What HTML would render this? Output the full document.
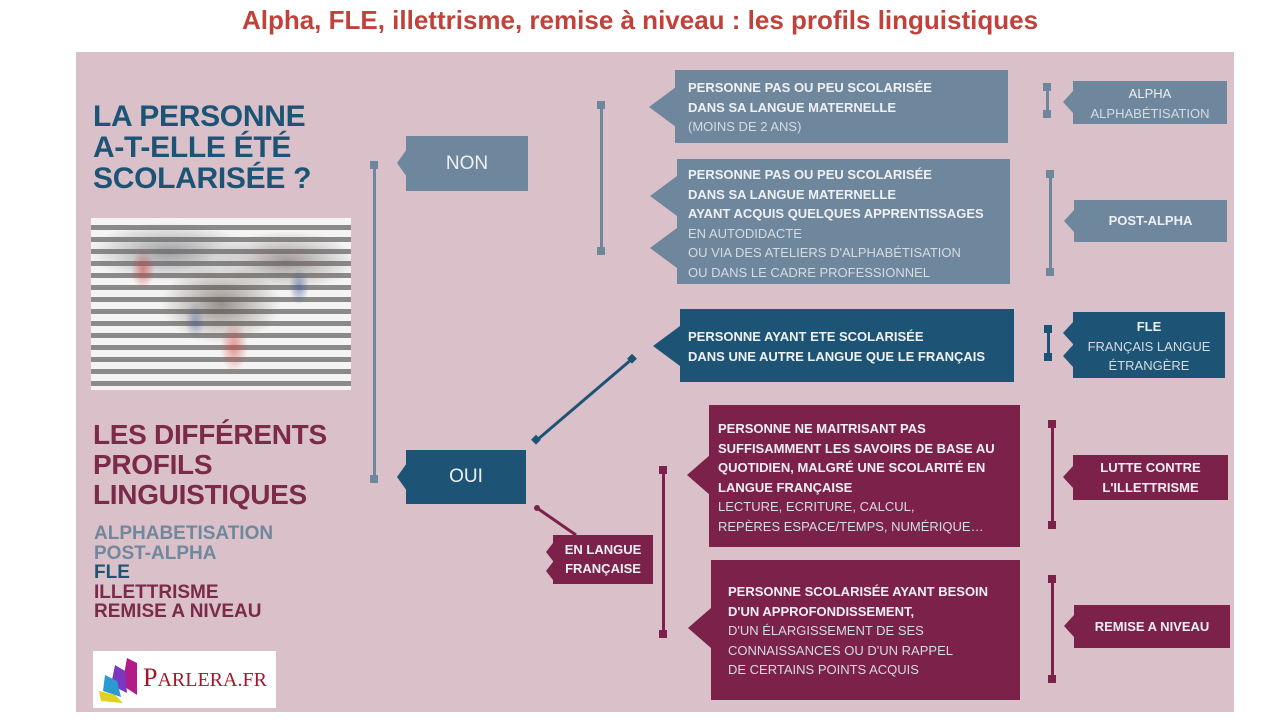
<!DOCTYPE html>
<html><head><meta charset="utf-8"><style>
*{margin:0;padding:0;box-sizing:border-box}
body{width:1280px;height:720px;background:#fff;position:relative;overflow:hidden;font-family:"Liberation Sans",sans-serif}
.abs{position:absolute}
#title{left:0;width:1280px;top:5px;text-align:center;color:#c0433b;font-weight:bold;font-size:26px}
#panel{left:76px;top:52px;width:1158px;height:660px;background:#d9c0c9}
.box{position:absolute;color:#eef0f4;font-weight:bold;font-size:13px;line-height:19.5px}
.box .l{font-weight:normal;color:#d4dbe3}
.s{background:#6f879d}.b{background:#1d5475}.m{background:#7c2149}
.ptr{position:absolute;width:0;height:0;border-top:14px solid transparent;border-bottom:14px solid transparent}
.vl{position:absolute;width:3px}
.sq{position:absolute;width:8px;height:8px}
.h{font-size:28px;font-weight:bold;line-height:31px;letter-spacing:-0.3px}
</style></head><body>
<div id="title" class="abs">Alpha, FLE, illettrisme, remise à niveau : les profils linguistiques</div>
<div id="panel" class="abs"></div>

<div class="abs h" style="left:93px;top:101px;color:#1d5475;font-size:30px">LA PERSONNE<br>A-T-ELLE ÉTÉ<br>SCOLARISÉE ?</div>
<div class="abs" style="left:91px;top:218px;width:260px;height:172px;background:
radial-gradient(ellipse 12px 20px at 20% 30%,#c9383a88,transparent),
radial-gradient(ellipse 14px 25px at 55% 75%,#d2453a88,transparent),
radial-gradient(ellipse 10px 18px at 80% 40%,#3b5a9a88,transparent),
radial-gradient(ellipse 10px 18px at 40% 60%,#3b5a9a66,transparent),
radial-gradient(ellipse 60px 40px at 50% 50%,#5a504a99,transparent),
radial-gradient(ellipse 80px 30px at 30% 20%,#6a6a7099,transparent),
radial-gradient(ellipse 70px 30px at 75% 25%,#6a606099,transparent),
repeating-linear-gradient(180deg,#f4f4f4 0 7px,#8c8a88 7px 12px)"></div>
<div class="abs h" style="left:93px;top:420px;color:#7b2a4a;line-height:30px">LES DIFFÉRENTS<br>PROFILS<br>LINGUISTIQUES</div>
<div class="abs" style="left:94px;top:524px;font-size:19px;font-weight:bold;line-height:19.6px">
<div style="color:#71889c">ALPHABETISATION</div><div style="color:#71889c">POST-ALPHA</div><div style="color:#1d5475">FLE</div><div style="color:#7b2a4a">ILLETTRISME</div><div style="color:#7b2a4a">REMISE A NIVEAU</div></div>
<div class="abs" style="left:93px;top:651px;width:183px;height:57px;background:#fff">
<svg class="abs" style="left:4px;top:4px" width="44" height="50"><polygon points="30,3 40,8 40,40 25,30" fill="#b01c8a"/><polygon points="18,10 28,16 30,38 14,30" fill="#7a38c0"/><polygon points="8,20 20,26 24,42 6,36" fill="#2a9ad0"/><polygon points="2,36 18,40 26,48 4,46" fill="#e0d020"/></svg>
<div class="abs" style="left:50px;top:12px;color:#a0182a;font-size:26px;font-family:'Liberation Serif',serif">P<span style="font-size:20px">ARLERA.FR</span></div></div>

<div class="vl" style="left:373px;top:165px;height:315px;background:#6f879d"></div>
<div class="sq" style="left:370px;top:161px;background:#6f879d"></div>
<div class="sq" style="left:370px;top:475px;background:#6f879d"></div>

<div class="box s" style="left:406px;top:136px;width:122px;height:55px;font-size:19px;font-weight:normal;text-align:center;line-height:55px">NON</div>
<div class="ptr" style="left:397px;top:149px;border-right:10px solid #6f879d"></div>
<div class="box b" style="left:406px;top:450px;width:120px;height:54px;font-size:19px;font-weight:normal;text-align:center;line-height:54px">OUI</div>
<div class="ptr" style="left:397px;top:463px;border-right:10px solid #1d5475"></div>

<div class="vl" style="left:600px;top:105px;height:148px;background:#6f879d"></div>
<div class="sq" style="left:597px;top:101px;background:#6f879d"></div>
<div class="sq" style="left:597px;top:247px;background:#6f879d"></div>

<div class="box s" style="left:675px;top:70px;width:333px;height:73px;padding:8px 0 0 13px">PERSONNE PAS OU PEU SCOLARISÉE<br>DANS SA LANGUE MATERNELLE<br><span class="l">(MOINS DE 2 ANS)</span></div>
<div class="ptr" style="left:649px;top:87px;border-right:27px solid #6f879d;border-top-width:20px;border-bottom-width:20px"></div>

<div class="box s" style="left:677px;top:159px;width:333px;height:125px;padding:6px 0 0 11px">PERSONNE PAS OU PEU SCOLARISÉE<br>DANS SA LANGUE MATERNELLE<br>AYANT ACQUIS QUELQUES APPRENTISSAGES<br><span class="l">EN AUTODIDACTE<br>OU VIA DES ATELIERS D'ALPHABÉTISATION<br>OU DANS LE CADRE PROFESSIONNEL</span></div>
<div class="ptr" style="left:650px;top:176px;border-right:27px solid #6f879d;border-top-width:20px;border-bottom-width:20px"></div>
<div class="ptr" style="left:650px;top:228px;border-right:27px solid #6f879d;border-top-width:20px;border-bottom-width:20px"></div>

<div class="box b" style="left:680px;top:309px;width:334px;height:73px;padding:18px 0 0 8px">PERSONNE AYANT ETE SCOLARISÉE<br>DANS UNE AUTRE LANGUE QUE LE FRANÇAIS</div>
<div class="ptr" style="left:653px;top:326px;border-right:27px solid #1d5475;border-top-width:20px;border-bottom-width:20px"></div>

<div class="vl" style="left:1046px;top:86px;height:29px;background:#6f879d"></div>
<div class="sq" style="left:1043px;top:83px;background:#6f879d"></div><div class="sq" style="left:1043px;top:110px;background:#6f879d"></div>
<div class="box s" style="left:1073px;top:81px;width:154px;height:43px;text-align:center;padding-top:3px;font-weight:normal">ALPHA<br><span class="l">ALPHABÉTISATION</span></div>
<div class="ptr" style="left:1063px;top:91px;border-right:10px solid #6f879d;border-top-width:11px;border-bottom-width:11px"></div>

<div class="vl" style="left:1049px;top:174px;height:99px;background:#6f879d"></div>
<div class="sq" style="left:1046px;top:170px;background:#6f879d"></div><div class="sq" style="left:1046px;top:268px;background:#6f879d"></div>
<div class="box s" style="left:1074px;top:200px;width:153px;height:42px;text-align:center;line-height:42px">POST-ALPHA</div>
<div class="ptr" style="left:1064px;top:210px;border-right:10px solid #6f879d;border-top-width:11px;border-bottom-width:11px"></div>

<div class="vl" style="left:1047px;top:328px;height:30px;background:#1d5475"></div>
<div class="sq" style="left:1044px;top:325px;background:#1d5475"></div><div class="sq" style="left:1044px;top:353px;background:#1d5475"></div>
<div class="box b" style="left:1073px;top:312px;width:152px;height:66px;text-align:center;padding-top:5px">FLE<br><span class="l">FRANÇAIS LANGUE<br>ÉTRANGÈRE</span></div>
<div class="ptr" style="left:1063px;top:322px;border-right:10px solid #1d5475;border-top-width:11px;border-bottom-width:11px"></div>
<div class="ptr" style="left:1063px;top:345px;border-right:10px solid #1d5475;border-top-width:11px;border-bottom-width:11px"></div>

<svg class="abs" style="left:0;top:0" width="1280" height="720">
<line x1="537" y1="440" x2="632" y2="359" stroke="#1d5475" stroke-width="3"/>
<rect x="533" y="436" width="7" height="7" fill="#1d5475" transform="rotate(45 536 439)"/>
<rect x="629" y="355" width="7" height="7" fill="#1d5475" transform="rotate(45 632 358)"/>
<line x1="537" y1="508" x2="576" y2="535" stroke="#7c2149" stroke-width="3"/>
<circle cx="537" cy="508" r="3" fill="#7c2149"/>
</svg>

<div class="box m" style="left:553px;top:535px;width:100px;height:49px;text-align:center;padding-top:5px;line-height:19px">EN LANGUE<br>FRANÇAISE</div>
<div class="ptr" style="left:546px;top:543px;border-right:7px solid #7c2149;border-top-width:9px;border-bottom-width:9px"></div>
<div class="ptr" style="left:546px;top:562px;border-right:7px solid #7c2149;border-top-width:9px;border-bottom-width:9px"></div>

<div class="vl" style="left:662px;top:470px;height:165px;background:#7c2149"></div>
<div class="sq" style="left:659px;top:466px;background:#7c2149"></div><div class="sq" style="left:659px;top:630px;background:#7c2149"></div>

<div class="box m" style="left:709px;top:405px;width:311px;height:142px;padding:14px 0 0 9px">PERSONNE NE MAITRISANT PAS<br>SUFFISAMMENT LES SAVOIRS DE BASE AU<br>QUOTIDIEN, MALGRÉ UNE SCOLARITÉ EN<br>LANGUE FRANÇAISE<br><span class="l">LECTURE, ECRITURE, CALCUL,<br>REPÈRES ESPACE/TEMPS, NUMÉRIQUE…</span></div>
<div class="ptr" style="left:687px;top:455px;border-right:23px solid #7c2149;border-top-width:20px;border-bottom-width:20px"></div>

<div class="box m" style="left:711px;top:560px;width:309px;height:140px;padding:22px 0 0 17px">PERSONNE SCOLARISÉE AYANT BESOIN<br>D'UN APPROFONDISSEMENT,<br><span class="l">D'UN ÉLARGISSEMENT DE SES<br>CONNAISSANCES OU D'UN RAPPEL<br>DE CERTAINS POINTS ACQUIS</span></div>
<div class="ptr" style="left:688px;top:608px;border-right:23px solid #7c2149;border-top-width:20px;border-bottom-width:20px"></div>

<div class="vl" style="left:1051px;top:424px;height:103px;background:#7c2149"></div>
<div class="sq" style="left:1048px;top:420px;background:#7c2149"></div><div class="sq" style="left:1048px;top:521px;background:#7c2149"></div>
<div class="box m" style="left:1073px;top:455px;width:155px;height:45px;text-align:center;padding-top:3px">LUTTE CONTRE<br>L'ILLETTRISME</div>
<div class="ptr" style="left:1063px;top:466px;border-right:10px solid #7c2149;border-top-width:11px;border-bottom-width:11px"></div>

<div class="vl" style="left:1051px;top:578px;height:102px;background:#7c2149"></div>
<div class="sq" style="left:1048px;top:575px;background:#7c2149"></div><div class="sq" style="left:1048px;top:675px;background:#7c2149"></div>
<div class="box m" style="left:1074px;top:605px;width:156px;height:43px;text-align:center;line-height:43px">REMISE A NIVEAU</div>
<div class="ptr" style="left:1064px;top:615px;border-right:10px solid #7c2149;border-top-width:11px;border-bottom-width:11px"></div>
</body></html>
